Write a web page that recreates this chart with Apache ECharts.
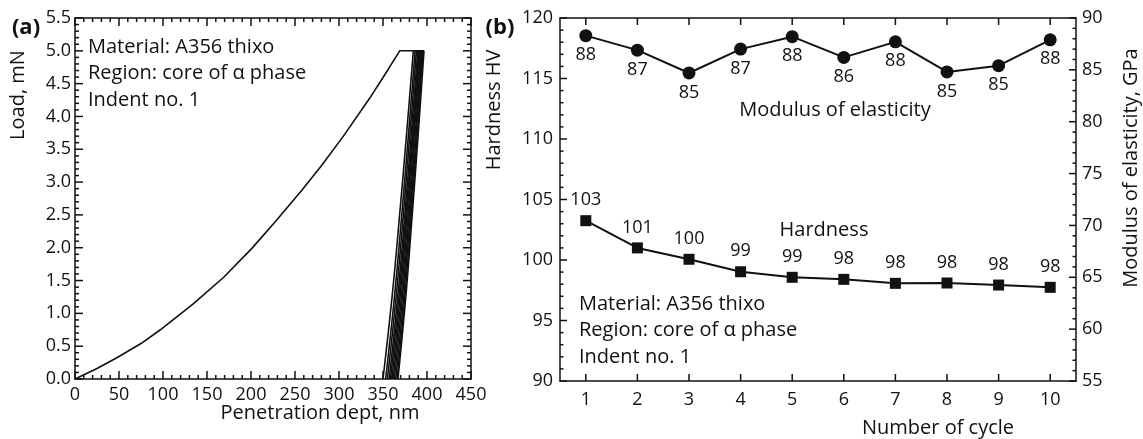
<!DOCTYPE html>
<html>
<head>
<meta charset="utf-8">
<title>A356 thixo - load-depth and cycle hardness</title>
<script src="https://cdn.jsdelivr.net/npm/echarts@6/dist/echarts.min.js"></script>
<style>
    html, body { margin: 0; padding: 0; background: #fff; }
    #chart { width: 1143px; height: 439px; }
</style>
</head>
<body>
<div id="chart"></div>
<script>

// Data
// ------------------------------

// (a) loading curve, [depth nm, load mN]
var loadingCurve = [
    [0, 0], [25, 0.16], [47, 0.32], [75, 0.54], [97, 0.75], [134, 1.14],
    [169, 1.55], [201, 1.99], [229, 2.42], [258, 2.88], [280, 3.25],
    [305, 3.70], [335, 4.28], [356, 4.72], [369, 5.0], [396.6, 5.0]
];

// (a) unloading curves of the cycles, read at loads 0 / 1.25 / 2.5 / 3.75 / 5.0
var unloadingCurves = [
    [[350, 0], [360.3, 1.25], [368.9, 2.5], [376.9, 3.75], [384.5, 5.0]],
    [[353, 0], [363.0, 1.25], [371.3, 2.5], [379.1, 3.75], [386.5, 5.0]],
    [[355, 0], [364.9, 1.25], [373.1, 2.5], [380.7, 3.75], [388.0, 5.0]],
    [[357, 0], [366.7, 1.25], [374.8, 2.5], [382.3, 3.75], [389.5, 5.0]],
    [[358.5, 0], [368.1, 1.25], [376.0, 2.5], [383.4, 3.75], [390.5, 5.0]],
    [[360, 0], [369.4, 1.25], [377.2, 2.5], [384.5, 3.75], [391.5, 5.0]],
    [[361.5, 0], [370.8, 1.25], [378.5, 2.5], [385.6, 3.75], [392.5, 5.0]],
    [[363, 0], [372.1, 1.25], [379.7, 2.5], [386.8, 3.75], [393.5, 5.0]],
    [[364.5, 0], [373.5, 1.25], [380.9, 2.5], [387.9, 3.75], [394.5, 5.0]],
    [[366, 0], [374.8, 1.25], [382.1, 2.5], [389.0, 3.75], [395.5, 5.0]],
    [[367, 0], [375.9, 1.25], [383.2, 2.5], [390.1, 3.75], [396.6, 5.0]]
];

// (b) per cycle
var cycles = ['1', '2', '3', '4', '5', '6', '7', '8', '9', '10'];
var hardness = [103.25, 101.0, 100.06, 99.03, 98.57, 98.4, 98.07, 98.1, 97.93, 97.74];
var hardnessLabels = ['103', '101', '100', '99', '99', '98', '98', '98', '98', '98'];
var modulus = [88.3, 86.9, 84.7, 87.0, 88.2, 86.2, 87.7, 84.8, 85.4, 87.9];
var modulusLabels = ['88', '87', '85', '87', '88', '86', '88', '85', '85', '88'];

var noteLines = ['Material: A356 thixo', 'Region: core of \u03b1 phase', 'Indent no. 1'];


// Setup
// ------------------------------

var FONT = '"Open Sans", "Noto Sans", sans-serif';
var INK = '#111';

var chart = echarts.init(document.getElementById('chart'), null, { renderer: 'canvas' });

function label(show, margin) {
    return { show: show, color: INK, fontFamily: FONT, fontSize: 18, margin: margin };
}

// Frame axis: line + labels only
function frameAxis(extra) {
    return Object.assign({
        splitLine: { show: false },
        axisLine: { show: true, onZero: false, lineStyle: { color: INK, width: 1.5 } },
        axisTick: { show: false },
        axisLabel: label(false, 8)
    }, extra);
}

// Tick values along an axis, [value, isMajor]
function tickList(min, max, step, majorEvery) {
    var out = [];
    var n = Math.round((max - min) / step);
    for (var i = 0; i <= n; i++) {
        out.push([+(min + i * step).toFixed(4), i % majorEvery === 0 ? 1 : 0]);
    }
    return out;
}

// Frame ticks pointing into the plot, drawn by a custom series
// positioned through the axis scale (api.coord)
function tickSeries(xIdx, yIdx, data, edges, len) {
    return {
        type: 'custom',
        xAxisIndex: xIdx,
        yAxisIndex: yIdx,
        data: data,
        encode: { x: 0, y: 1 },
        silent: true,
        clip: false,
        z: 3,
        renderItem: function(params, api) {
            var cs = params.coordSys;
            var pt = api.coord([api.value(0), api.value(1)]);
            var l = api.value(2) ? len : len / 2;
            var st = { stroke: INK, lineWidth: 1.5 };
            var kids = [];
            edges.forEach(function(e) {
                var s;
                if (e === 'bottom') s = { x1: pt[0], y1: cs.y + cs.height, x2: pt[0], y2: cs.y + cs.height - l };
                if (e === 'top') s = { x1: pt[0], y1: cs.y, x2: pt[0], y2: cs.y + l };
                if (e === 'left') s = { x1: cs.x, y1: pt[1], x2: cs.x + l, y2: pt[1] };
                if (e === 'right') s = { x1: cs.x + cs.width, y1: pt[1], x2: cs.x + cs.width - l, y2: pt[1] };
                kids.push({ type: 'line', shape: s, style: st });
            });
            return { type: 'group', children: kids };
        }
    };
}

// (a) series
var seriesList = [{
    type: 'line',
    xAxisIndex: 0,
    yAxisIndex: 0,
    data: loadingCurve,
    showSymbol: false,
    lineStyle: { color: INK, width: 1.6 },
    silent: true
}];
unloadingCurves.forEach(function(curve) {
    seriesList.push({
        type: 'line',
        xAxisIndex: 0,
        yAxisIndex: 0,
        data: curve,
        showSymbol: false,
        smooth: 0.4,
        lineStyle: { color: INK, width: 1.6 },
        silent: true
    });
});

// (b) series
seriesList.push({
    name: 'Hardness',
    type: 'line',
    xAxisIndex: 2,
    yAxisIndex: 2,
    data: hardness,
    symbol: 'rect',
    symbolSize: 11,
    itemStyle: { color: INK },
    lineStyle: { color: INK, width: 2 },
    label: {
        show: true, position: 'top', distance: 6, color: INK, fontFamily: FONT, fontSize: 18,
        formatter: function(p) { return hardnessLabels[p.dataIndex]; }
    }
});
seriesList.push({
    name: 'Modulus of elasticity',
    type: 'line',
    xAxisIndex: 2,
    yAxisIndex: 3,
    data: modulus,
    symbol: 'circle',
    symbolSize: 13,
    itemStyle: { color: INK },
    lineStyle: { color: INK, width: 2 },
    label: {
        show: true, position: 'bottom', distance: 4, color: INK, fontFamily: FONT, fontSize: 18,
        formatter: function(p) { return modulusLabels[p.dataIndex]; }
    }
});

// Frame ticks
seriesList.push(tickSeries(0, 0, tickList(0, 450, 10, 5).map(function(t) { return [t[0], 0, t[1]]; }),
    ['bottom', 'top'], 8));
seriesList.push(tickSeries(0, 0, tickList(0, 5.5, 0.1, 5).map(function(t) { return [0, t[0], t[1]]; }),
    ['left', 'right'], 8));
seriesList.push(tickSeries(2, 2, cycles.map(function(c, i) { return [i, 90, 1]; }),
    ['bottom', 'top'], 7));
seriesList.push(tickSeries(2, 2, tickList(90, 120, 1, 5).map(function(t) { return [0, t[0], t[1]]; }),
    ['left'], 7));
seriesList.push(tickSeries(2, 3, tickList(55, 90, 1, 5).map(function(t) { return [0, t[0], t[1]]; }),
    ['right'], 7));

// Text helpers
function txt(x, y, s, opts) {
    opts = opts || {};
    return {
        type: 'text',
        x: x,
        y: y,
        rotation: opts.rotate ? Math.PI / 2 : 0,
        silent: true,
        style: {
            text: s,
            fill: INK,
            font: (opts.bold ? 'bold ' : '') + (opts.size || 20) + 'px ' + FONT,
            textAlign: opts.align || 'center',
            textVerticalAlign: 'middle'
        }
    };
}

var graphics = [
    txt(26, 28, '(a)', { bold: true, size: 22 }),
    txt(18, 95, 'Load, mN', { rotate: true }),
    txt(320, 413, 'Penetration dept, nm'),
    txt(500, 28, '(b)', { bold: true, size: 22 }),
    txt(494, 110, 'Hardness HV', { rotate: true }),
    txt(1131, 168, 'Modulus of elasticity, GPa', { rotate: true }),
    txt(938, 428, 'Number of cycle'),
    txt(835, 110, 'Modulus of elasticity'),
    txt(824, 230, 'Hardness')
];
noteLines.forEach(function(line, i) {
    graphics.push(txt(88, 47 + i * 26.5, line, { align: 'left' }));
    graphics.push(txt(579, 304 + i * 26.5, line, { align: 'left' }));
});


// Options
// ------------------------------

chart.setOption({
    animation: false,
    textStyle: { fontFamily: FONT },
    grid: [
        { left: 75, top: 18, width: 396, height: 361 },
        { left: 560, top: 18, width: 516, height: 363 }
    ],
    xAxis: [
        frameAxis({ gridIndex: 0, type: 'value', position: 'bottom', min: 0, max: 450, interval: 50,
            axisLabel: label(true, 7) }),
        frameAxis({ gridIndex: 0, type: 'value', position: 'top', min: 0, max: 450, interval: 50 }),
        frameAxis({ gridIndex: 1, type: 'category', position: 'bottom', data: cycles, boundaryGap: true,
            axisLabel: label(true, 10) }),
        frameAxis({ gridIndex: 1, type: 'category', position: 'top', data: cycles, boundaryGap: true })
    ],
    yAxis: [
        frameAxis({ gridIndex: 0, type: 'value', position: 'left', min: 0, max: 5.5, interval: 0.5,
            axisLabel: Object.assign(label(true, 4), { formatter: function(v) { return v.toFixed(1); } }) }),
        frameAxis({ gridIndex: 0, type: 'value', position: 'right', min: 0, max: 5.5, interval: 0.5 }),
        frameAxis({ gridIndex: 1, type: 'value', position: 'left', min: 90, max: 120, interval: 5,
            axisLabel: label(true, 7) }),
        frameAxis({ gridIndex: 1, type: 'value', position: 'right', min: 55, max: 90, interval: 5,
            axisLabel: label(true, 6) })
    ],
    series: seriesList,
    graphic: graphics
});

window.addEventListener('resize', function() {
    chart.resize();
});
</script>
</body>
</html>
